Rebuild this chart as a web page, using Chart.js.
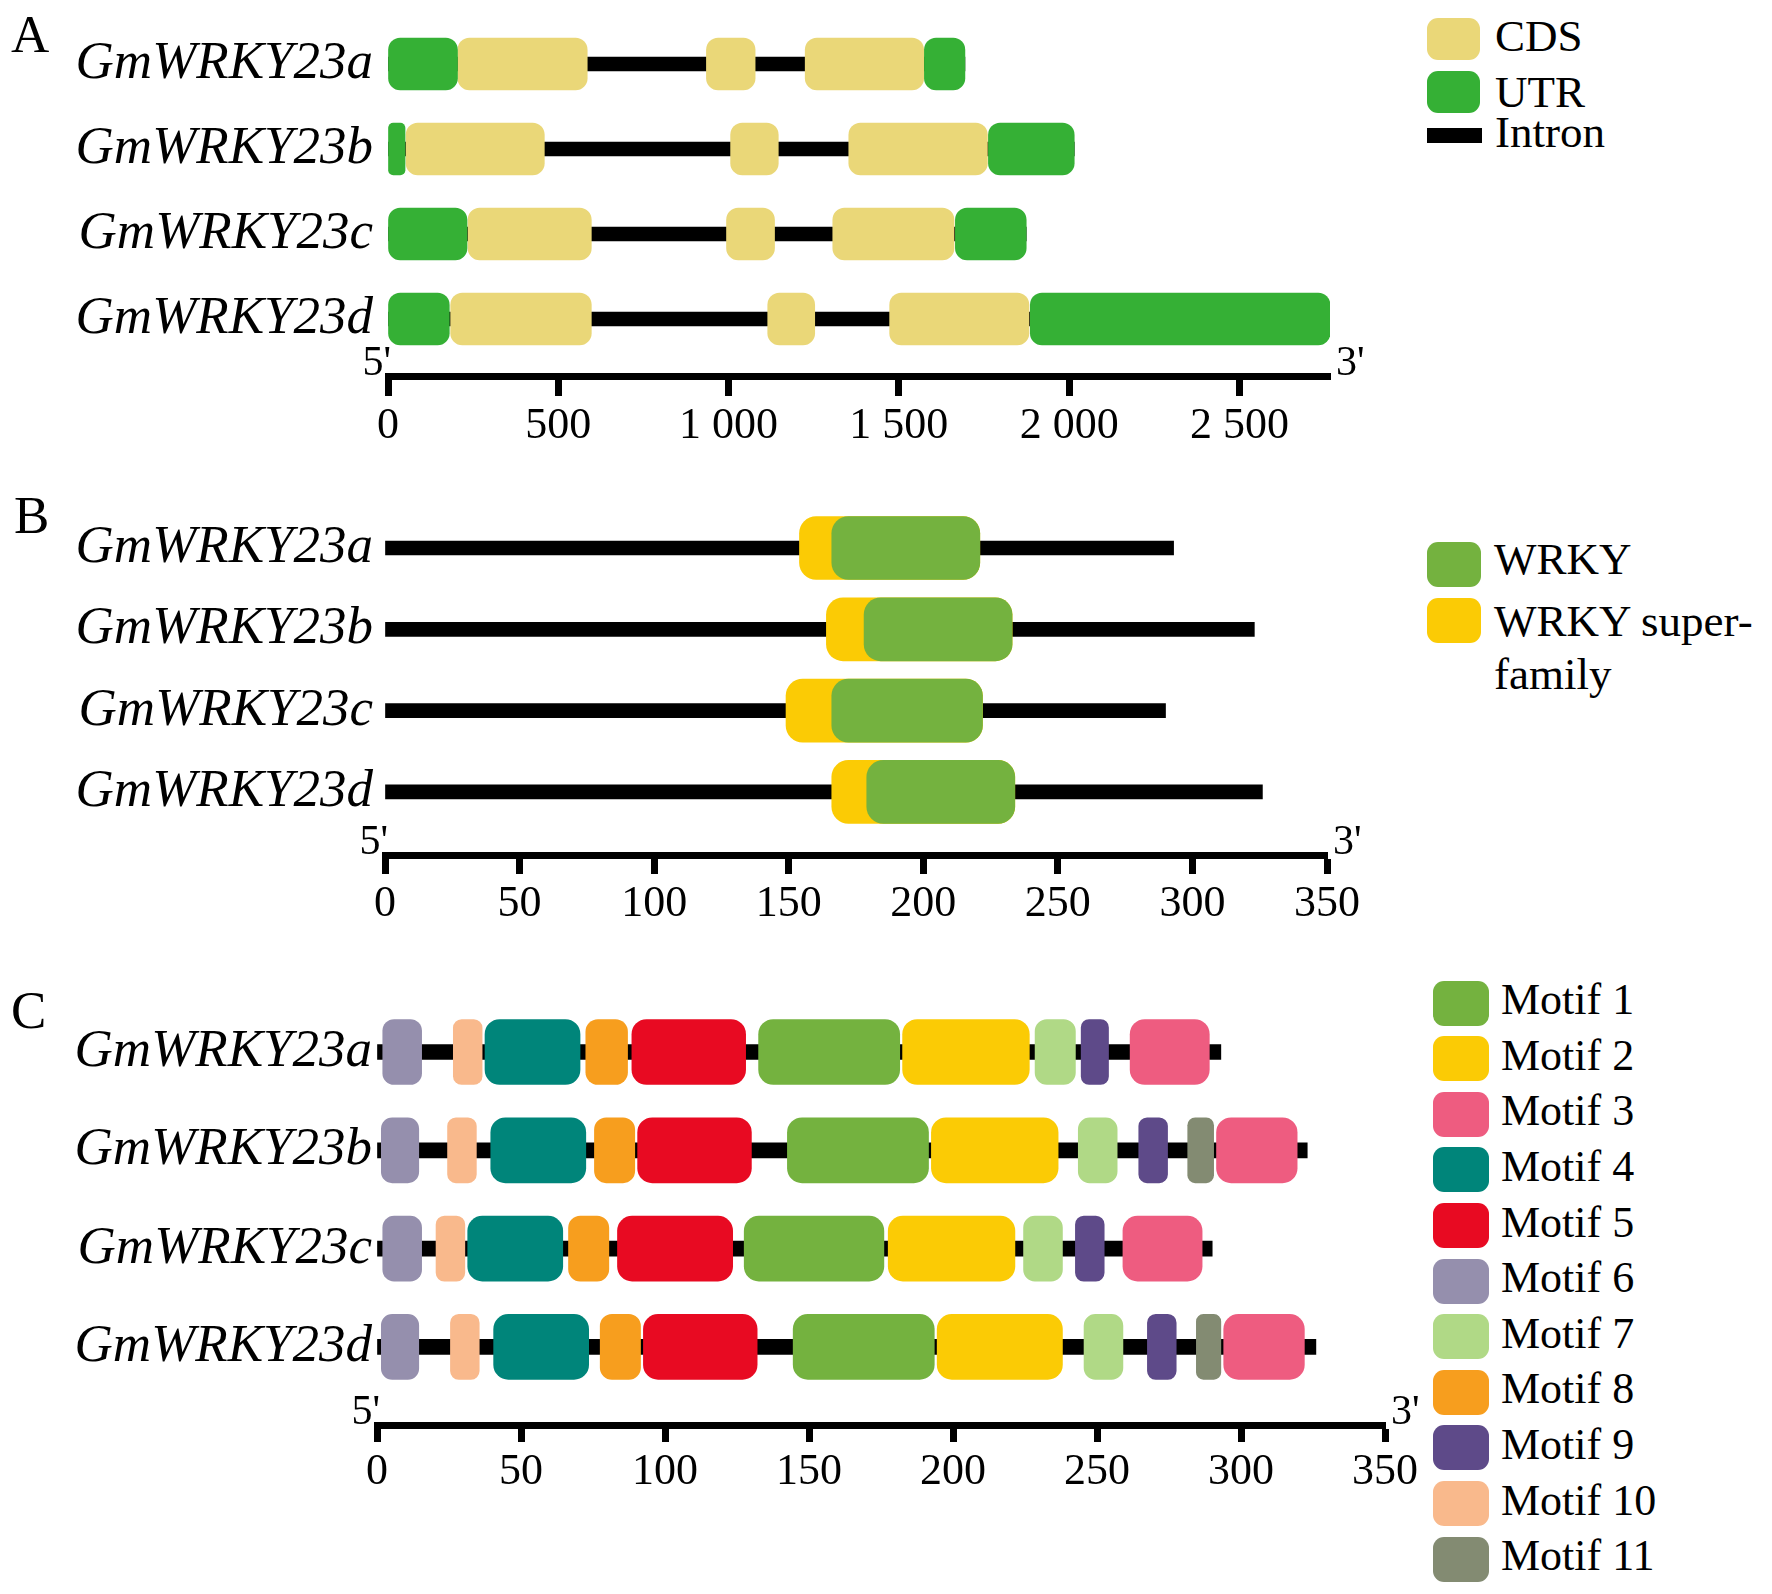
<!DOCTYPE html>
<html>
<head>
<meta charset="utf-8">
<title>GmWRKY23 gene structure, domains and motifs</title>
<script src="https://cdn.jsdelivr.net/npm/chart.js@4.4.1/dist/chart.umd.min.js"></script>
<style>
  html, body { margin: 0; padding: 0; background: #fff; }
  #page { position: relative; width: 1772px; height: 1594px; overflow: hidden;
          font-family: 'Liberation Serif', 'Times New Roman', serif; color: #000; }
  .panel { position: absolute; left: 0; }
  .txt { position: absolute; line-height: 1; white-space: nowrap; }
  .key { position: absolute; }
</style>
</head>
<body>
<div id="page">
  <div class="panel" style="top:0px"><canvas id="chartA" width="1420" height="470" style="width:1420px;height:470px"></canvas></div>
  <div class="panel" style="top:470px"><canvas id="chartB" width="1420" height="470" style="width:1420px;height:470px"></canvas></div>
  <div class="panel" style="top:940px"><canvas id="chartC" width="1420" height="654" style="width:1420px;height:654px"></canvas></div>
</div>
<script>
const genes = ['GmWRKY23a', 'GmWRKY23b', 'GmWRKY23c', 'GmWRKY23d'];

// A - gene structure, positions in bp
const geneLength = [1694, 2015, 1874, 2766];
const utr5 = [[0, 204], [0, 50], [0, 232], [0, 180]];
const utr3 = [[1575, 1694], [1763, 2015], [1666, 1874], [1886, 2766]];
const cdsExons = [
    [[205, 585], [935, 1078], [1225, 1573]],
    [[53, 459], [1006, 1146], [1353, 1760]],
    [[235, 597], [994, 1135], [1306, 1662]],
    [[184, 597], [1115, 1253], [1473, 1882]]
];
const bpTicks = [0, 500, 1000, 1500, 2000, 2500];

// B - conserved domains, positions in aa
const proteinLength = [293, 323, 290, 326];
const wrkyDomain = [[166, 221], [178, 233], [166, 222], [179, 234]];
const wrkySuperfamily = [[154, 221], [164, 233], [149, 222], [166, 234]];
const aaTicks = [0, 50, 100, 150, 200, 250, 300, 350];

// C - MEME motifs, positions in aa (null = motif absent)
const motifNames = ['Motif 1', 'Motif 2', 'Motif 3', 'Motif 4', 'Motif 5', 'Motif 6',
                    'Motif 7', 'Motif 8', 'Motif 9', 'Motif 10', 'Motif 11'];
const motifColors = ['#74b23f', '#fbcb05', '#ee5c80', '#00857a', '#e80a22', '#958fad',
                     '#b0d986', '#f79e1e', '#5e4a89', '#f9b98c', '#838b72'];
const motifSites = [
    [[132.5, 181.5], [142.5, 191.5], [127.5, 176], [144.5, 193.5]],
    [[182.5, 226.5], [192.5, 236.5], [177.5, 221.5], [194.5, 238]],
    [[261.5, 289], [291.5, 319.5], [259, 286.5], [294, 322]],
    [[37.5, 70.5], [39.5, 72.5], [31.5, 64.5], [40.5, 73.5]],
    [[88.5, 128], [90.5, 130], [83.5, 123.5], [92.5, 132]],
    [[2, 15.5], [1.5, 14.5], [2, 15.5], [1.5, 14.5]],
    [[228.5, 242.5], [243.5, 257], [224.5, 238], [245.5, 259]],
    [[72.5, 87], [75.5, 89.5], [66.5, 80.5], [77.5, 91.5]],
    [[244.5, 254], [264.5, 274.5], [242.5, 252.5], [267.5, 277.5]],
    [[26.5, 36.5], [24.5, 34.5], [20.5, 30.5], [25.5, 35.5]],
    [null, [281.5, 290.5], null, [284.5, 293]]
];

const cdsColor = '#ead778';
const utrColor = '#35b035';
const wrkyColor = '#74b23f';
const superColor = '#fbcb05';

Chart.defaults.font.family = "'Liberation Serif', 'Times New Roman', serif";
Chart.defaults.color = '#000';

// one floating bar per [start, end] range, placed on the gene's row
function toBars(rangesPerGene) {
    const out = [];
    rangesPerGene.forEach((ranges, i) => {
        ranges.forEach(r => { if (r) out.push({ x: r, y: i }); });
    });
    return out;
}

function roundedBox(maxR) {
    return c => {
        const r = c.raw && c.raw.x;
        if (!r) return 0;
        const xs = c.chart.scales.x;
        const w = Math.abs(xs.getPixelForValue(r[1]) - xs.getPixelForValue(r[0]));
        return Math.min(maxR, w * 0.3);
    };
}

function boxSet(data, color, thickness, maxR) {
    return {
        data: data,
        backgroundColor: color,
        barThickness: thickness,
        borderSkipped: false,
        borderRadius: roundedBox(maxR),
        grouped: false
    };
}

function backbone(lengths, thickness) {
    return {
        data: lengths.map((l, i) => ({ x: [0, l], y: i })),
        backgroundColor: '#000',
        barThickness: thickness,
        borderSkipped: false,
        borderRadius: 0,
        grouped: false
    };
}

// 5' and 3' at both ends of the ruler
const primeLabels = {
    id: 'primes',
    afterDraw(chart) {
        const { ctx, chartArea } = chart;
        ctx.save();
        ctx.font = "42px 'Liberation Serif'";
        ctx.fillStyle = '#000';
        ctx.textBaseline = 'alphabetic';
        ctx.textAlign = 'right';
        ctx.fillText("5'", chartArea.left + 3, chartArea.bottom - 1);
        ctx.textAlign = 'left';
        ctx.fillText("3'", chartArea.right + 6, chartArea.bottom - 1);
        ctx.restore();
    }
};

function formatBp(v) {
    return v >= 1000 ? Math.floor(v / 1000) + ' ' + String(v % 1000).padStart(3, '0') : String(v);
}

function geneChart(id, opt) {
    const canvas = document.getElementById(id);
    const W = canvas.width, H = canvas.height;
    const yMin = -0.6;
    const yMax = (opt.axisY - opt.firstRow) / opt.rowStep;
    const top = opt.firstRow + yMin * opt.rowStep;
    return new Chart(canvas, {
        type: 'bar',
        data: { datasets: opt.datasets },
        options: {
            indexAxis: 'y',
            responsive: false,
            animation: false,
            devicePixelRatio: 1,
            layout: { padding: { left: 0, top: top, right: W - opt.right, bottom: 0 } },
            plugins: { legend: { display: false }, tooltip: { enabled: false } },
            scales: {
                x: {
                    type: 'linear',
                    min: 0,
                    max: opt.max,
                    offset: false,
                    grid: { drawOnChartArea: false, drawTicks: true, tickLength: opt.tickLength,
                            tickWidth: 7, tickColor: '#000', offset: false },
                    border: { display: true, width: 7, color: '#000' },
                    afterBuildTicks: s => { s.ticks = opt.ticks.map(v => ({ value: v })); },
                    ticks: {
                        autoSkip: false,
                        maxRotation: 0,
                        padding: opt.labelGap,
                        font: { size: 44 },
                        color: '#000',
                        callback: v => formatBp(v)
                    },
                    afterFit: s => { s.height = H - opt.axisY; s.paddingLeft = 0; s.paddingRight = 0; }
                },
                y: {
                    type: 'linear',
                    reverse: true,
                    offset: false,
                    min: yMin,
                    max: yMax,
                    grid: { display: false, drawTicks: false, offset: false },
                    border: { display: false },
                    afterBuildTicks: s => { s.ticks = genes.map((g, i) => ({ value: i })); },
                    ticks: {
                        autoSkip: false,
                        padding: opt.namePad,
                        font: { size: 53, style: 'italic' },
                        color: '#000',
                        callback: v => genes[v]
                    },
                    afterFit: s => { s.width = opt.left; s.paddingTop = 0; s.paddingBottom = 0; }
                }
            }
        },
        plugins: [primeLabels]
    });
}

// Panel A
geneChart('chartA', {
    left: 388, right: 1330, max: geneLength[3], ticks: bpTicks,
    firstRow: 64, rowStep: 85, axisY: 376, tickLength: 20, labelGap: 4, namePad: 15,
    datasets: [
        boxSet(toBars(utr5.map((u, i) => [u, utr3[i]])), utrColor, 52, 12),
        boxSet(toBars(cdsExons), cdsColor, 52, 12),
        backbone(geneLength, 14)
    ]
});

// Panel B
geneChart('chartB', {
    left: 385, right: 1327, max: aaTicks[aaTicks.length - 1], ticks: aaTicks,
    firstRow: 78, rowStep: 81.3, axisY: 385, tickLength: 19, labelGap: 4, namePad: 12,
    datasets: [
        boxSet(toBars(wrkyDomain.map(r => [r])), wrkyColor, 63, 17),
        boxSet(toBars(wrkySuperfamily.map(r => [r])), superColor, 63, 17),
        backbone(proteinLength, 14)
    ]
});

// Panel C
geneChart('chartC', {
    left: 377, right: 1385, max: aaTicks[aaTicks.length - 1], ticks: aaTicks,
    firstRow: 112, rowStep: 98.3, axisY: 485, tickLength: 17, labelGap: 4, namePad: 5,
    datasets: motifSites.map((sites, k) => boxSet(toBars(sites.map(r => [r])), motifColors[k], 65, 15))
        .concat([backbone(proteinLength, 15)])
});

// panel letters and keys
const page = document.getElementById('page');
function addText(x, baseline, text, size) {
    const d = document.createElement('div');
    d.className = 'txt';
    d.style.left = x + 'px';
    d.style.top = (baseline - 0.8375 * size) + 'px';
    d.style.fontSize = size + 'px';
    d.textContent = text;
    page.appendChild(d);
}
function addKey(x, y, w, h, color, r) {
    const d = document.createElement('div');
    d.className = 'key';
    d.style.cssText += `left:${x}px;top:${y}px;width:${w}px;height:${h}px;background:${color};border-radius:${r}px`;
    page.appendChild(d);
}

addText(11, 52, 'A', 53);
addText(14, 533, 'B', 53);
addText(11, 1028, 'C', 53);

addKey(1427, 18, 53, 42, cdsColor, 11);
addText(1495, 52, 'CDS', 45);
addKey(1427, 71, 53, 42, utrColor, 11);
addText(1495, 108, 'UTR', 45);
addKey(1427, 128, 55, 15, '#000', 0);
addText(1495, 148, 'Intron', 45);

addKey(1427, 542, 54, 45, wrkyColor, 11);
addText(1494, 575, 'WRKY', 45);
addKey(1427, 598, 54, 45, superColor, 11);
addText(1494, 637, 'WRKY super-', 45);
addText(1494, 690, 'family', 45);

motifNames.forEach((name, k) => {
    addKey(1433, 980.5 + 55.6 * k, 56, 45, motifColors[k], 11);
    addText(1501, 1015 + 55.6 * k, name, 44);
});
</script>
</body>
</html>
